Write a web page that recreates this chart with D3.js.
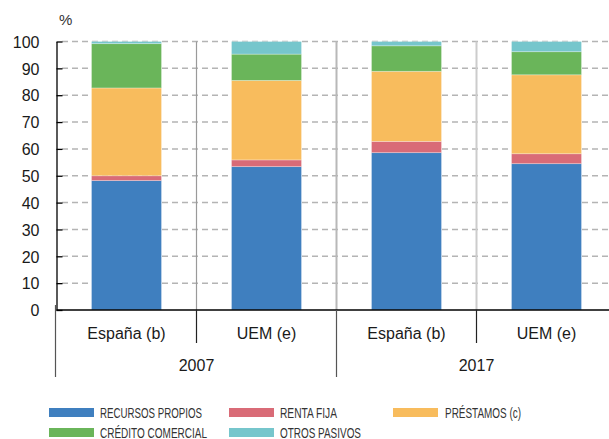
<!DOCTYPE html>
<html>
<head>
<meta charset="utf-8">
<script src="https://cdn.jsdelivr.net/npm/d3@7"></script>
<style>
  body { margin: 0; background: #fff; }
  svg { display: block; font-family: "Liberation Sans", Arial, sans-serif; }
  .tick-label { font-size: 16px; fill: #1a1a1a; }
  .legend-text { font-family: "Liberation Sans Narrow", "Liberation Sans", sans-serif; font-size: 15px; fill: #333; }
</style>
</head>
<body>
<svg width="609" height="439"></svg>
<script>
// Data
var years = ["2007", "2017"];
var areas = ["España (b)", "UEM (e)"];
var seriesNames = ["RECURSOS PROPIOS", "RENTA FIJA", "PRÉSTAMOS (c)", "CRÉDITO COMERCIAL", "OTROS PASIVOS"];
var seriesColors = ["#3f7fbf", "#d96b77", "#f8bc5d", "#6ab55a", "#76c6cc"];
// one value per bar: España 2007, UEM 2007, España 2017, UEM 2017
var recursosPropios  = [48.2, 53.4, 58.6, 54.5];
var rentaFija        = [1.8, 2.5, 4.2, 3.7];
var prestamos        = [32.7, 29.6, 26.1, 29.4];
var creditoComercial = [16.5, 9.8, 9.5, 8.6];
var otrosPasivos     = [0.8, 4.7, 1.6, 3.8];
var yTicks = [0, 10, 20, 30, 40, 50, 60, 70, 80, 90, 100];

var svg = d3.select("svg");

// build rows for the stack
var barKeys = [];
years.forEach(function(yr) {
  areas.forEach(function(a) { barKeys.push(yr + "|" + a); });
});
var allSeries = [recursosPropios, rentaFija, prestamos, creditoComercial, otrosPasivos];
var rows = barKeys.map(function(k, i) {
  var r = { key: k };
  seriesNames.forEach(function(s, j) { r[s] = allSeries[j][i]; });
  return r;
});

var x = d3.scaleBand()
  .domain(barKeys)
  .range([56.5, 616.5])
  .paddingInner(0.5)
  .paddingOuter(0.25);

var y = d3.scaleLinear()
  .domain([0, 100])
  .range([310, 41.5]);

// dashed grid lines
svg.append("g").selectAll("line")
  .data(yTicks.filter(function(d) { return d > 0; }))
  .enter().append("line")
  .attr("x1", 62).attr("x2", 609)
  .attr("y1", function(d) { return y(d); })
  .attr("y2", function(d) { return y(d); })
  .attr("stroke", "#b4b4b4")
  .attr("stroke-width", 1.5)
  .attr("stroke-dasharray", "6,4");

// vertical separators between bars inside the plot
var sepX = [x.step() * 1 + 56.5, x.step() * 2 + 56.5, x.step() * 3 + 56.5];
var sepColor = ["#9a9a9a", "#b8b8b8", "#cccccc"];
var sepWidth = [1.2, 2, 2];
svg.append("g").selectAll("line")
  .data(sepX)
  .enter().append("line")
  .attr("x1", function(d) { return d; }).attr("x2", function(d) { return d; })
  .attr("y1", y(100)).attr("y2", y(0))
  .attr("stroke", function(d, i) { return sepColor[i]; })
  .attr("stroke-width", function(d, i) { return sepWidth[i]; });

// stacked bars
var stack = d3.stack().keys(seriesNames);
var stacked = stack(rows);

var layer = svg.append("g").selectAll("g")
  .data(stacked)
  .enter().append("g")
  .attr("fill", function(d, i) { return seriesColors[i]; });

layer.selectAll("rect")
  .data(function(d) { return d; })
  .enter().append("rect")
  .attr("x", function(d) { return x(d.data.key); })
  .attr("width", x.bandwidth())
  .attr("y", function(d) { return y(d[1]); })
  .attr("height", function(d) { return y(d[0]) - y(d[1]); })
  .attr("stroke", "rgba(255,255,255,0.35)")
  .attr("stroke-width", 0.8);

// y axis
var yAxis = d3.axisLeft(y)
  .tickValues(yTicks)
  .tickSizeInner(-6)
  .tickSizeOuter(0)
  .tickPadding(17);

var yg = svg.append("g")
  .attr("transform", "translate(56.5,0)")
  .call(yAxis);
yg.select(".domain").attr("stroke", "#000").attr("stroke-width", 1.3);
yg.selectAll(".tick line").attr("stroke", "#000").attr("stroke-width", 1.3);
yg.selectAll(".tick text")
  .attr("class", "tick-label")
  .attr("dy", "0.36em")
  .style("font-family", "'Liberation Sans', Arial, sans-serif")
  .style("font-size", "16px");

svg.append("text")
  .attr("x", 59).attr("y", 25)
  .attr("fill", "#333")
  .style("font-size", "15px")
  .text("%");

// x axis baseline
svg.append("line")
  .attr("x1", 56.5).attr("x2", 609)
  .attr("y1", y(0)).attr("y2", y(0))
  .attr("stroke", "#000").attr("stroke-width", 1.5);

// category ticks below axis
svg.append("g").selectAll("line")
  .data([sepX[0], sepX[2]])
  .enter().append("line")
  .attr("x1", function(d) { return d; }).attr("x2", function(d) { return d; })
  .attr("y1", y(0)).attr("y2", 343)
  .attr("stroke", "#222").attr("stroke-width", 1.2);

// year group separators
svg.append("g").selectAll("line")
  .data([55.5, sepX[1]])
  .enter().append("line")
  .attr("x1", function(d) { return d; }).attr("x2", function(d) { return d; })
  .attr("y1", function(d, i) { return i === 0 ? 305 : y(0); })
  .attr("y2", 377)
  .attr("stroke", "#555").attr("stroke-width", 1.2);

// category labels
svg.append("g").selectAll("text")
  .data(rows)
  .enter().append("text")
  .attr("class", "tick-label")
  .attr("x", function(d) { return x(d.key) + x.bandwidth() / 2; })
  .attr("y", 339)
  .attr("text-anchor", "middle")
  .text(function(d) { return d.key.split("|")[1]; });

// year labels
svg.append("g").selectAll("text")
  .data(years)
  .enter().append("text")
  .attr("class", "tick-label")
  .attr("x", function(d, i) { return sepX[i * 2]; })
  .attr("y", 371)
  .attr("text-anchor", "middle")
  .text(function(d) { return d; });

// legend
var legendX = [49, 229, 393];
var legendY = [408, 428];
var legendW = [102, 57, 76, 107, 81];

var legend = svg.append("g").selectAll("g")
  .data(seriesNames)
  .enter().append("g")
  .attr("transform", function(d, i) {
    return "translate(" + legendX[i % 3] + "," + legendY[Math.floor(i / 3)] + ")";
  });

legend.append("rect")
  .attr("width", 45).attr("height", 9)
  .attr("fill", function(d, i) { return seriesColors[i]; });

legend.append("text")
  .attr("class", "legend-text")
  .attr("x", function(d, i) { return i % 3 === 2 ? 52 : 51; })
  .attr("y", 9.5)
  .attr("textLength", function(d, i) { return legendW[i]; })
  .attr("lengthAdjust", "spacingAndGlyphs")
  .text(function(d) { return d; });
</script>
</body>
</html>
